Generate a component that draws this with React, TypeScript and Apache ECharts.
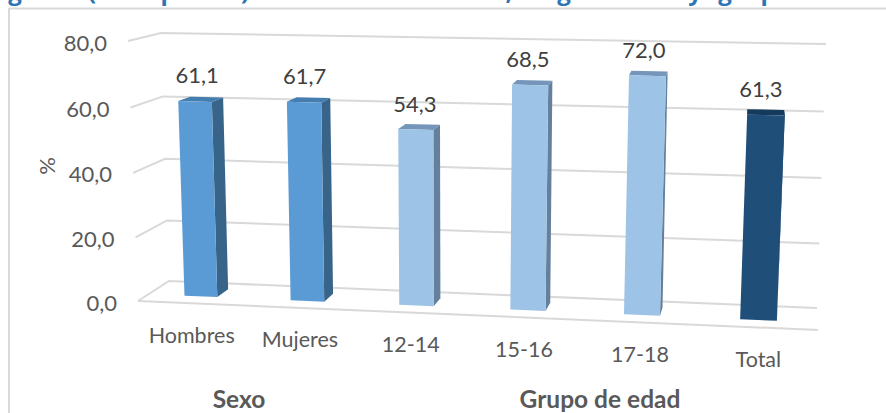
import React, { useEffect, useRef } from "react";
import * as echarts from "echarts";

const categories = ["Hombres", "Mujeres", "12-14", "15-16", "17-18", "Total"];
const values = [61.1, 61.7, 54.3, 68.5, 72.0, 61.3];
const ticks = [0, 20, 40, 60, 80];
const tickLabels = ["0,0", "20,0", "40,0", "60,0", "80,0"];
const frontColors = ["#5B9BD5", "#5B9BD5", "#9DC3E6", "#9DC3E6", "#9DC3E6", "#1F4E79"];
const sideColors = ["#386489", "#386489", "#64809C", "#64809C", "#64809C", "#1F4E79"];
const topColors = ["#447DAF", "#447DAF", "#7596BA", "#7596BA", "#7596BA", "#143A5C"];
const titleGlyphs = ["g", "(", "p", ")", ",", "g", "y", "g", "p"];
const titleGlyphX = [15, 92, 168, 245, 509, 564, 695, 725, 768];

const W = 886;
const H = 413;
const FONT = "Lato, 'Open Sans', sans-serif";
const FRONT_W = 0.66;
const BACK_W = 0.27;
const BAR_FRACTION = 0.312;

// Corners of the tilted plot box: back wall (w = 0) and front plane (w = 1).
const back = { lb: [169, 281], lt: [161, 33], rb: [817, 308], rt: [826, 44] };
const front = { lb: [138, 301], lt: [128, 41], rb: [818, 330], rt: [831, 56] };

const warp = (u: number) => 0.9328 * u + 0.0672 * u * u;
const warpF = (f: number) => f - 0.03 * f * (1 - f);
const lerp = (a: number, b: number, t: number) => a + (b - a) * t;
const project = (u: number, f: number, w: number): number[] => {
  const uu = warp(u);
  const ft = warpF(f);
  const at = (k: number) => {
    const bb = lerp(lerp(back.lb[k], back.rb[k], uu), lerp(back.lt[k], back.rt[k], uu), ft);
    const ff = lerp(lerp(front.lb[k], front.rb[k], uu), lerp(front.lt[k], front.rt[k], uu), ft);
    return lerp(bb, ff, w);
  };
  return [at(0), at(1)];
};
const toFraction = (api: any, cat: number, val: number) => {
  const p = api.coord([cat, val]);
  return [p[0] / W, 1 - p[1] / H];
};
const fmt = (v: number) => v.toFixed(1).replace(".", ",");

const renderGrid = (_: any, api: any) => {
  const tick = api.value(1);
  const [, f] = toFraction(api, 0, tick);
  const line = { stroke: "#D9D9D9", lineWidth: 2, fill: "none" };
  const a = project(0, f, 1);
  const children: any[] = [
    { type: "polyline", shape: { points: [a, project(0, f, 0), project(1, f, 0)] }, style: line },
  ];
  if (tick === 0) {
    children.push({ type: "line", shape: { x1: a[0], y1: a[1], x2: project(1, 0, 1)[0], y2: project(1, 0, 1)[1] }, style: line });
  }
  children.push({
    type: "text",
    x: a[0] - 21,
    y: a[1] + 1,
    style: { text: tickLabels[api.value(0)], fontFamily: FONT, fontSize: 22, fill: "#595959", align: "right", verticalAlign: "middle" },
  });
  return { type: "group", children };
};

const renderBar = (_: any, api: any) => {
  const i = api.value(0);
  const v = api.value(1);
  const [uc, f] = toFraction(api, i, v);
  const half = (api.size([1, 0])[0] * BAR_FRACTION) / 2 / W;
  const l = uc - half;
  const r = uc + half;
  const poly = (pts: number[][], fill: string) => ({ type: "polygon", shape: { points: pts }, style: { fill } });
  const top = project(uc, f, FRONT_W);
  const floor = project(uc, 0, 1);
  return {
    type: "group",
    children: [
      poly([project(r, 0, FRONT_W), project(r, 0, BACK_W), project(r, f, BACK_W), project(r, f, FRONT_W)], sideColors[i]),
      poly([project(l, f, FRONT_W), project(l, f, BACK_W), project(r, f, BACK_W), project(r, f, FRONT_W)], topColors[i]),
      poly([project(l, 0, FRONT_W), project(r, 0, FRONT_W), project(r, f, FRONT_W), project(l, f, FRONT_W)], frontColors[i]),
      {
        type: "text",
        x: top[0] + 2 - 1.4 * i,
        y: top[1] - 26.5,
        style: { text: fmt(v), fontFamily: FONT, fontSize: 22, fill: "#404040", align: "center", verticalAlign: "middle" },
      },
      {
        type: "text",
        x: floor[0] + 0.5,
        y: floor[1] + 31.5,
        style: { text: categories[i], fontFamily: FONT, fontSize: 21.5, fill: "#595959", align: "center", verticalAlign: "middle" },
      },
    ],
  };
};

export default function App() {
  const ref = useRef<HTMLDivElement>(null);
  useEffect(() => {
    if (!ref.current) return;
    const chart = echarts.init(ref.current, undefined, { renderer: "svg" });
    const border = { stroke: "#D9D9D9", lineWidth: 2 };
    chart.setOption({
      animation: false,
      backgroundColor: "#FFFFFF",
      grid: { left: 0, top: 0, width: W, height: H },
      xAxis: { type: "category", data: categories, show: false },
      yAxis: { type: "value", min: 0, max: 80, interval: 20, show: false },
      graphic: [
        { type: "line", shape: { x1: 9, y1: 8.5, x2: 886, y2: 8.5 }, style: border, silent: true },
        { type: "line", shape: { x1: 9, y1: 8, x2: 9, y2: 413 }, style: border, silent: true },
        ...titleGlyphs.map((g, k) => ({
          type: "text",
          x: titleGlyphX[k],
          y: 2,
          style: { text: g, fontFamily: "'Open Sans', sans-serif", fontWeight: "bold", fontSize: 24, fill: "#2E75B6", align: "center", verticalAlign: "bottom" },
        })),
        {
          type: "text",
          x: 46,
          y: 166,
          rotation: Math.PI / 2,
          style: { text: "%", fontFamily: FONT, fontSize: 22, fill: "#595959", align: "center", verticalAlign: "middle" },
        },
        {
          type: "text",
          x: 239,
          y: 398,
          style: { text: "Sexo", fontFamily: FONT, fontWeight: "bold", fontSize: 24.5, fill: "#595959", align: "center", verticalAlign: "middle" },
        },
        {
          type: "text",
          x: 600,
          y: 398,
          style: { text: "Grupo de edad", fontFamily: FONT, fontWeight: "bold", fontSize: 24.5, fill: "#595959", align: "center", verticalAlign: "middle" },
        },
      ],
      series: [
        {
          type: "custom",
          coordinateSystem: "cartesian2d",
          renderItem: renderGrid,
          data: ticks.map((t, k) => [k, t]),
          encode: { x: 0, y: 1 },
          silent: true,
          z: 1,
        },
        {
          type: "custom",
          coordinateSystem: "cartesian2d",
          renderItem: renderBar,
          data: values.map((v, i) => [i, v]),
          encode: { x: 0, y: 1 },
          silent: true,
          z: 2,
        },
      ],
    });
    return () => chart.dispose();
  }, []);
  return <div ref={ref} style={{ position: "fixed", left: 0, top: 0, width: W, height: H }} />;
}
